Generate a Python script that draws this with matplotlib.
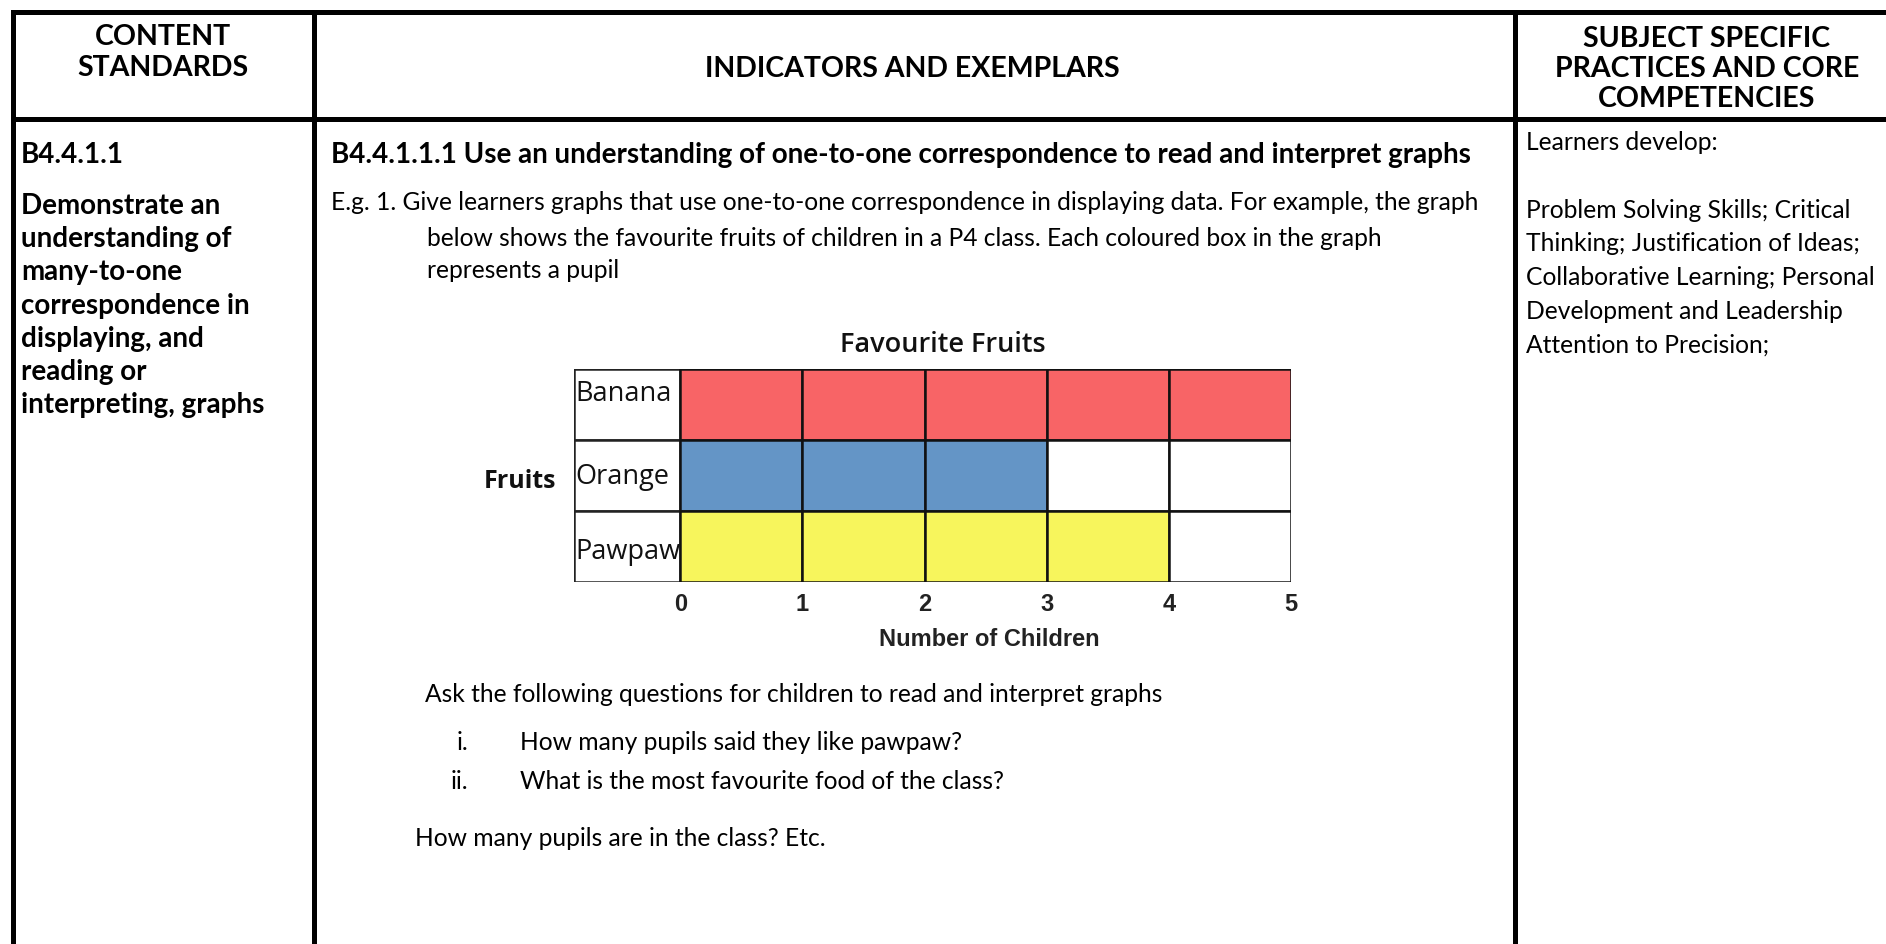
import matplotlib
matplotlib.use("Agg")
import matplotlib.pyplot as plt

# chart data
fruits = ["Banana", "Orange", "Pawpaw"]
counts = [5, 3, 4]
fruit_colors = ["#F86466", "#6495C6", "#F7F55C"]
max_count = 5
chart_title = "Favourite Fruits"
x_label = "Number of Children"
y_label = "Fruits"

# table text
head_left = "CONTENT\nSTANDARDS"
head_mid = "INDICATORS AND EXEMPLARS"
head_right = "SUBJECT SPECIFIC\nPRACTICES AND CORE\nCOMPETENCIES"
std_code = "B4.4.1.1"
std_lines = ["Demonstrate an", "understanding of", "many-to-one",
             "correspondence in", "displaying, and", "reading or",
             "interpreting, graphs"]
ind_head = "B4.4.1.1.1 Use an understanding of one-to-one correspondence to read and interpret graphs"
eg_lines = ["E.g. 1. Give learners graphs that use one-to-one correspondence in displaying data. For example, the graph",
            "below shows the favourite fruits of children in a P4 class. Each coloured box in the graph",
            "represents a pupil"]
ask_line = "Ask the following questions for children to read and interpret graphs"
questions = [("i.", "How many pupils said they like pawpaw?"),
             ("ii.", "What is the most favourite food of the class?")]
last_line = "How many pupils are in the class? Etc."
right_head = "Learners develop:"
right_lines = ["Problem Solving Skills; Critical", "Thinking; Justification of Ideas;",
               "Collaborative Learning; Personal", "Development and Leadership",
               "Attention to Precision;"]

W, H = 1886, 944
fig = plt.figure(figsize=(W / 100, H / 100), dpi=100)
ax = fig.add_axes([0, 0, 1, 1])
ax.set_xlim(0, W)
ax.set_ylim(H, 0)
ax.axis("off")

body = "Lato"
lw = 3.6
hsize = 20.5
bsize = 20
rsize = 17.75

# table borders
ax.plot([12.5, W], [11.5, 11.5], color="black", lw=lw, solid_capstyle="projecting")
ax.plot([12.5, W], [118.5, 118.5], color="black", lw=lw)
for xv in [12.5, 314, 1514.5]:
    ax.plot([xv, xv], [11.5, H + 5], color="black", lw=lw, solid_capstyle="projecting")

# header
ax.text(163, 52.5, head_left, ha="center", va="center", fontsize=hsize, fontweight="bold",
        family=body, linespacing=1.23)
ax.text(912, 69, head_mid, ha="center", va="center", fontsize=hsize, fontweight="bold", family=body)
ax.text(1707, 69, head_right, ha="center", va="center", fontsize=hsize, fontweight="bold",
        family=body, linespacing=1.19)

# left column
ax.text(21, 155, std_code, ha="left", va="center", fontsize=bsize, fontweight="bold", family=body)
for i, s in enumerate(std_lines):
    ax.text(21, 206 + i * 33.2, s, ha="left", va="center", fontsize=bsize,
            fontweight="bold", family=body)

# middle column
ax.text(331, 155, ind_head, ha="left", va="center", fontsize=bsize, fontweight="bold", family=body)
ax.text(331, 202, eg_lines[0], ha="left", va="center", fontsize=rsize, family=body)
ax.text(427, 238, eg_lines[1], ha="left", va="center", fontsize=rsize, family=body)
ax.text(427, 271, eg_lines[2], ha="left", va="center", fontsize=rsize, family=body)
ax.text(425, 694, ask_line, ha="left", va="center", fontsize=rsize, family=body)
for i, (num, q) in enumerate(questions):
    y = 743 + i * 38.5
    ax.text(468, y, num, ha="right", va="center", fontsize=rsize, family=body)
    ax.text(520, y, q, ha="left", va="center", fontsize=rsize, family=body)
ax.text(415, 838, last_line, ha="left", va="center", fontsize=rsize, family=body)

# right column
ax.text(1526, 142, right_head, ha="left", va="center", fontsize=rsize, family=body)
for i, s in enumerate(right_lines):
    ax.text(1526, 210 + i * 33.8, s, ha="left", va="center", fontsize=rsize, family=body)

# chart
lab_w = 0.87
label_dy = [-0.15, 0.02, 0.08]
cl, cr, ct, cb = 574, 1291, 369, 582
cax = fig.add_axes([cl / W, 1 - cb / H, (cr - cl) / W, (cb - ct) / H])
for i, (f, n, c) in enumerate(zip(fruits, counts, fruit_colors)):
    cax.barh(i, lab_w, left=-lab_w, height=1, color="white", edgecolor="#222222", lw=1.8)
    for j in range(max_count):
        cax.barh(i, 1, left=j, height=1, color=c if j < n else "white",
                 edgecolor="#111111", lw=1.8)
    cax.text(-lab_w + 0.01, i + label_dy[i], f, ha="left", va="center", fontsize=19.5,
             family="Open Sans", color="#111111")
cax.set_xlim(-lab_w, max_count)
cax.set_ylim(len(fruits) - 0.5, -0.5)
cax.set_xticks(range(max_count + 1))
cax.set_xticklabels([str(v) for v in range(max_count + 1)], family="Liberation Sans",
                    fontsize=17, fontweight="bold", color="#222222")
cax.tick_params(axis="x", length=0, pad=8)
cax.set_yticks([])
for sp in cax.spines.values():
    sp.set_visible(False)
cax.patch.set_alpha(0)

ax.text(943, 345, chart_title, ha="center", va="center", fontsize=19.5, family="Open Sans",
        fontweight="semibold", color="#111111")
ax.text(520, 481, y_label, ha="center", va="center", fontsize=18, fontweight="bold",
        family="Open Sans", color="#111111")
ax.text(989, 640, x_label, ha="center", va="center", fontsize=17, fontweight="bold",
        family="Liberation Sans", color="#222222")

fig.savefig("out.png", dpi=100)
